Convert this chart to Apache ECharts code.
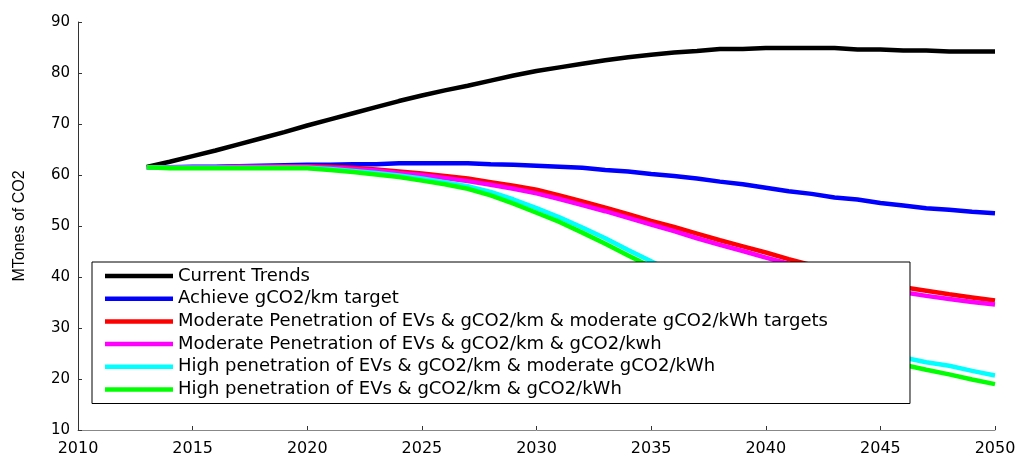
<!DOCTYPE html>
<html>
<head>
<meta charset="utf-8">
<script src="https://cdn.jsdelivr.net/npm/echarts@6/dist/echarts.min.js"></script>
<style>
  html, body { margin: 0; padding: 0; background: #fff; }
  #main { width: 1021px; height: 457px; }
</style>
</head>
<body>
<div id="main"></div>
<script>
// years 2013..2050
var years = [];
for (var y = 2013; y <= 2050; y++) years.push(y);

var seriesNames = [
  "Current Trends",
  "Achieve gCO2/km target",
  "Moderate Penetration of EVs & gCO2/km & moderate gCO2/kWh targets",
  "Moderate Penetration of EVs & gCO2/km & gCO2/kwh",
  "High penetration of EVs & gCO2/km & moderate gCO2/kWh",
  "High penetration of EVs & gCO2/km & gCO2/kWh"
];
var seriesColors = ["#000000", "#0000ff", "#ff0000", "#ff00ff", "#00ffff", "#00ff00"];

var currentTrends = [61.6, 62.6, 63.7, 64.8, 66.0, 67.2, 68.4, 69.7, 70.9, 72.1, 73.3, 74.5, 75.6, 76.6, 77.5, 78.5, 79.5, 80.4, 81.1, 81.8, 82.5, 83.1, 83.6, 84.0, 84.3, 84.7, 84.7, 84.9, 84.9, 84.9, 84.9, 84.6, 84.6, 84.4, 84.4, 84.2, 84.2, 84.2];
var achieveKm = [61.5, 61.5, 61.6, 61.6, 61.7, 61.8, 61.9, 62.0, 62.0, 62.1, 62.1, 62.3, 62.3, 62.3, 62.3, 62.1, 62.0, 61.8, 61.6, 61.4, 61.0, 60.7, 60.2, 59.8, 59.3, 58.7, 58.2, 57.5, 56.8, 56.3, 55.6, 55.2, 54.5, 54.0, 53.5, 53.2, 52.8, 52.5];
var modEvModKwh = [61.5, 61.5, 61.5, 61.5, 61.6, 61.6, 61.7, 61.7, 61.6, 61.4, 61.1, 60.7, 60.3, 59.8, 59.3, 58.6, 57.9, 57.1, 56.0, 54.8, 53.6, 52.3, 51.0, 49.8, 48.5, 47.2, 46.0, 44.8, 43.5, 42.3, 41.2, 40.1, 39.0, 38.0, 37.3, 36.6, 36.0, 35.4];
var modEvKwh = [61.5, 61.5, 61.5, 61.5, 61.6, 61.6, 61.6, 61.6, 61.4, 61.2, 60.9, 60.4, 60.0, 59.4, 58.8, 58.1, 57.3, 56.4, 55.3, 54.1, 52.9, 51.6, 50.3, 49.0, 47.6, 46.3, 45.1, 43.8, 42.6, 41.4, 40.3, 39.2, 38.2, 37.0, 36.3, 35.7, 35.1, 34.6];
var highEvModKwh = [61.5, 61.4, 61.4, 61.4, 61.4, 61.4, 61.4, 61.4, 61.2, 60.8, 60.4, 59.9, 59.3, 58.6, 57.8, 56.7, 55.2, 53.5, 51.7, 49.7, 47.6, 45.3, 43.1, 40.9, 38.7, 36.7, 34.7, 32.8, 31.0, 29.3, 27.7, 26.3, 25.1, 24.2, 23.3, 22.6, 21.6, 20.7];
var highEvKwh = [61.5, 61.3, 61.3, 61.3, 61.3, 61.3, 61.3, 61.3, 61.0, 60.6, 60.1, 59.6, 58.9, 58.2, 57.3, 56.0, 54.4, 52.6, 50.8, 48.7, 46.5, 44.2, 42.0, 39.8, 37.6, 35.6, 33.6, 31.7, 29.9, 28.2, 26.6, 25.2, 24.0, 22.8, 21.8, 20.9, 19.9, 19.0];

var allValues = [currentTrends, achieveKm, modEvModKwh, modEvKwh, highEvModKwh, highEvKwh];

function pairs(vals) {
  return years.map(function (yr, i) { return [yr, vals[i]]; });
}

var chart = echarts.init(document.getElementById("main"));

var series = seriesNames.map(function (name, i) {
  return {
    name: name,
    type: "line",
    data: pairs(allValues[i]),
    showSymbol: false,
    symbol: "none",
    lineStyle: { width: 4.5, color: seriesColors[i] },
    itemStyle: { color: seriesColors[i] }
  };
});

chart.setOption({
  animation: false,
  backgroundColor: "#fff",
  grid: { left: 78, right: 26, top: 22, bottom: 22 },
  xAxis: {
    type: "value",
    min: 2010,
    max: 2050,
    interval: 5,
    axisLine: { show: true, lineStyle: { color: "#888", width: 1 } },
    axisTick: { show: true, inside: true, length: 4, lineStyle: { color: "#333" } },
    axisLabel: {
      color: "#000", fontFamily: "DejaVu Sans", fontSize: 16, margin: 11,
      formatter: function (v) { return String(v); }
    },
    splitLine: { show: false }
  },
  yAxis: {
    type: "value",
    min: 10,
    max: 90,
    interval: 10,
    name: "MTones of CO2",
    nameLocation: "middle",
    nameGap: 50,
    nameTextStyle: { color: "#000", fontFamily: "Liberation Sans", fontSize: 16 },
    axisLine: { show: true, lineStyle: { color: "#333", width: 1 } },
    axisTick: { show: true, inside: true, length: 4, lineStyle: { color: "#333" } },
    axisLabel: { color: "#000", fontFamily: "DejaVu Sans", fontSize: 15, margin: 8 },
    splitLine: { show: false }
  },
  legend: {
    orient: "vertical",
    left: 92,
    top: 262,
    icon: "rect",
    itemWidth: 68,
    itemHeight: 4.5,
    itemGap: 4.7,
    padding: [5, 82, 5, 13],
    backgroundColor: "#fff",
    borderColor: "#000",
    borderWidth: 1,
    borderRadius: 0,
    textStyle: { color: "#000", fontFamily: "DejaVu Sans", fontSize: 18, lineHeight: 18 },
    data: seriesNames
  },
  series: series
});
</script>
</body>
</html>
